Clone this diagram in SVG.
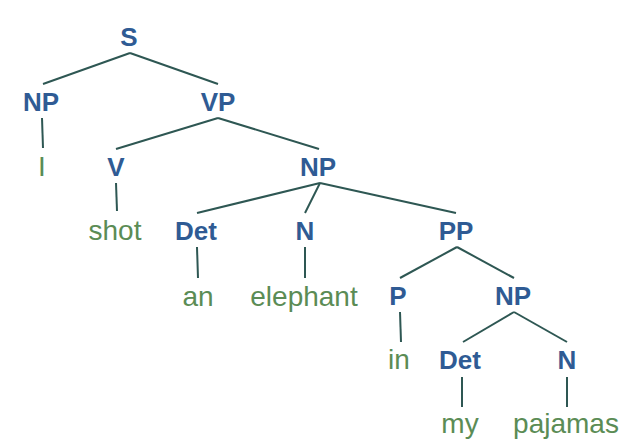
<svg xmlns="http://www.w3.org/2000/svg" width="631" height="445" viewBox="0 0 631 445">
  <style>
    .cat { font-family: "Liberation Sans", Arial, sans-serif; font-weight: bold; font-size: 26px; fill: #2f5b94; text-anchor: middle; }
    .word { font-family: "Liberation Sans", Arial, sans-serif; font-size: 28px; fill: #5b8c55; text-anchor: middle; }
    .edges line { stroke: #2e5753; stroke-width: 2; stroke-linecap: butt; }
  </style>
  <rect width="631" height="445" fill="#ffffff"/>

  <g id="edges" class="edges">
    <line x1="130" y1="53" x2="43" y2="84"/>
    <line x1="130" y1="53" x2="218" y2="84"/>
    <line x1="42" y1="118" x2="43" y2="148"/>
    <line x1="218" y1="118" x2="116" y2="149"/>
    <line x1="218" y1="118" x2="319" y2="149"/>
    <line x1="116" y1="183" x2="117" y2="211"/>
    <line x1="320" y1="183" x2="197" y2="213"/>
    <line x1="320" y1="183" x2="305" y2="213"/>
    <line x1="320" y1="183" x2="456" y2="213"/>
    <line x1="197" y1="247" x2="198" y2="278"/>
    <line x1="305" y1="247" x2="305" y2="278"/>
    <line x1="457" y1="247" x2="400" y2="278"/>
    <line x1="457" y1="247" x2="514" y2="278"/>
    <line x1="400" y1="312" x2="401" y2="342"/>
    <line x1="514" y1="312" x2="463" y2="342"/>
    <line x1="514" y1="312" x2="567" y2="342"/>
    <line x1="462" y1="377" x2="462" y2="407"/>
    <line x1="567" y1="377" x2="567" y2="407"/>
  </g>

  <g id="n-S"><text class="cat" x="129" y="46">S</text></g>
  <g id="n-NP1"><text class="cat" x="41" y="111">NP</text></g>
  <g id="n-VP"><text class="cat" x="218" y="111">VP</text></g>
  <g id="w-I"><text class="word" x="42" y="176">I</text></g>
  <g id="n-V"><text class="cat" x="116" y="176">V</text></g>
  <g id="n-NP2"><text class="cat" x="318" y="176">NP</text></g>
  <g id="w-shot"><text class="word" x="115" y="240">shot</text></g>
  <g id="n-Det1"><text class="cat" x="196" y="240">Det</text></g>
  <g id="n-N1"><text class="cat" x="305" y="240">N</text></g>
  <g id="n-PP"><text class="cat" x="456" y="240">PP</text></g>
  <g id="w-an"><text class="word" x="198" y="306">an</text></g>
  <g id="w-elephant"><text class="word" x="304" y="306">elephant</text></g>
  <g id="n-P"><text class="cat" x="398" y="305">P</text></g>
  <g id="n-NP3"><text class="cat" x="513" y="305">NP</text></g>
  <g id="w-in"><text class="word" x="399" y="369">in</text></g>
  <g id="n-Det2"><text class="cat" x="460" y="369">Det</text></g>
  <g id="n-N2"><text class="cat" x="567" y="369">N</text></g>
  <g id="w-my"><text class="word" x="460" y="433">my</text></g>
  <g id="w-pajamas"><text class="word" x="566" y="433">pajamas</text></g>
</svg>
